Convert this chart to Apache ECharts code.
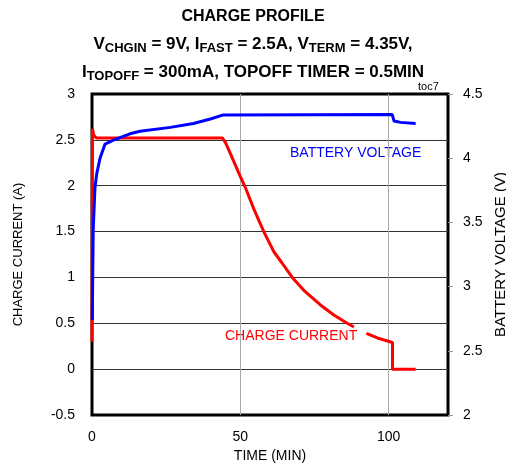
<!DOCTYPE html>
<html>
<head>
<meta charset="utf-8">
<script src="https://cdn.jsdelivr.net/npm/echarts@6/dist/echarts.min.js"></script>
<style>
  html, body { margin: 0; padding: 0; background: #fff; }
  #chart { width: 506px; height: 468px; }
</style>
</head>
<body>
<div id="chart"></div>
<script>
// charge current (A) vs time (min), left axis
var currentData = [
  [0, 0.3], [0.15, 2.62], [0.6, 2.55], [1.5, 2.52], [44, 2.52],
  [45, 2.47], [46.5, 2.36], [48, 2.25], [50, 2.1], [51.7, 1.98],
  [54.5, 1.75], [57.9, 1.5], [61.3, 1.28], [64, 1.16], [67.5, 1.0],
  [71.4, 0.86], [77, 0.7], [81.5, 0.59], [86, 0.5], [88.3, 0.46],
  [90, null],
  [92.5, 0.39], [96.2, 0.34], [101.3, 0.29], [101.3, 0.0], [109.1, 0.0]
];
// battery voltage (V) vs time (min), right axis
var voltageData = [
  [0.1, 2.74], [0.4, 3.44], [1.0, 3.77], [1.6, 3.88], [2.7, 4.0], [4.4, 4.11],
  [7.2, 4.14], [12.8, 4.19], [16.2, 4.21], [26.4, 4.24], [34.2, 4.27],
  [39.9, 4.305], [44, 4.336], [101.2, 4.34], [101.8, 4.29], [104, 4.279], [109.1, 4.271]
];

var F = '"Liberation Sans", Arial, Helvetica, sans-serif';

var myChart = echarts.init(document.getElementById('chart'));

var richT = {
  m: { fontFamily: F, fontSize: 17, fontWeight: 'bold', color: '#000', lineHeight: 22, verticalAlign: 'middle' },
  s: { fontFamily: F, fontSize: 13, fontWeight: 'bold', color: '#000', lineHeight: 13, verticalAlign: 'bottom' }
};

var option = {
  backgroundColor: '#fff',
  animation: false,
  title: [
    { text: 'CHARGE PROFILE', left: 'center', top: 4,
      textStyle: { fontFamily: F, fontSize: 16, fontWeight: 'bold', color: '#000' } },
    { text: '{m|V}{s|CHGIN}{m| = 9V, I}{s|FAST}{m| = 2.5A, V}{s|TERM}{m| = 4.35V,}', left: 'center', top: 28,
      textStyle: { rich: richT } },
    { text: '{m|I}{s|TOPOFF}{m| = 300mA, TOPOFF TIMER = 0.5MIN}', left: 'center', top: 56,
      textStyle: { rich: richT } }
  ],
  grid: {
    left: 92, right: 58, top: 94, bottom: 53,
    outerBoundsMode: 'none', containLabel: false,
    show: true, borderColor: '#000', borderWidth: 3
  },
  xAxis: {
    type: 'value', min: 0, max: 120, interval: 50,
    name: 'TIME (MIN)', nameLocation: 'middle', nameGap: 28,
    nameTextStyle: { fontFamily: F, fontSize: 14, color: '#000' },
    axisLine: { show: false }, axisTick: { show: false },
    axisLabel: { fontFamily: F, fontSize: 14, color: '#000', margin: 15, showMaxLabel: false },
    splitLine: { show: true, showMinLine: false, showMaxLine: false, lineStyle: { color: '#aaa', width: 1 } }
  },
  yAxis: [
    {
      type: 'value', min: -0.5, max: 3, interval: 0.5,
      name: 'CHARGE CURRENT (A)', nameLocation: 'middle', nameGap: 67,
      nameTextStyle: { fontFamily: F, fontSize: 13, color: '#000' },
      axisLine: { show: false }, axisTick: { show: false },
      axisLabel: { fontFamily: F, fontSize: 14, color: '#000', margin: 17 },
      splitLine: { show: true, showMinLine: false, showMaxLine: false, lineStyle: { color: '#333', width: 1 } }
    },
    {
      type: 'value', min: 2, max: 4.5, interval: 0.5, position: 'right',
      name: 'BATTERY VOLTAGE (V)', nameLocation: 'middle', nameGap: 44,
      nameTextStyle: { fontFamily: F, fontSize: 15, color: '#000' },
      axisLine: { show: false },
      axisTick: { show: true, length: 5, lineStyle: { color: '#999' } },
      axisLabel: { fontFamily: F, fontSize: 14, color: '#000', margin: 15 },
      splitLine: { show: false }
    }
  ],
  graphic: [
    { type: 'text', left: 418, top: 81, style: { text: 'toc7', fill: '#000', font: '11px ' + F } },
    { type: 'text', left: 290, top: 146, style: { text: 'BATTERY VOLTAGE', fill: '#0000ff', font: '14px ' + F } },
    { type: 'text', left: 225, top: 329, style: { text: 'CHARGE CURRENT', fill: '#ff0000', font: '14px ' + F } }
  ],
  series: [
    {
      name: 'CHARGE CURRENT', type: 'line', yAxisIndex: 0, data: currentData,
      showSymbol: false, connectNulls: false,
      lineStyle: { color: '#ff0000', width: 3 }
    },
    {
      name: 'BATTERY VOLTAGE', type: 'line', yAxisIndex: 1, data: voltageData,
      showSymbol: false,
      lineStyle: { color: '#0000ff', width: 3 }
    }
  ]
};

myChart.setOption(option);
window.addEventListener('resize', function() {
  myChart.resize();
});
</script>
</body>
</html>
